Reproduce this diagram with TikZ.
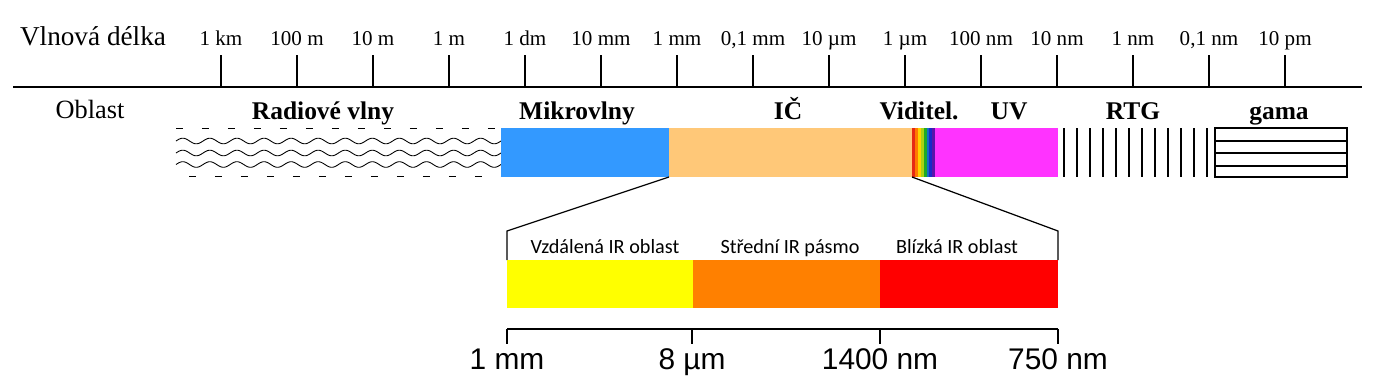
\documentclass[tikz,border=0pt]{standalone}
\usepackage{fontspec}
\setmainfont{Liberation Serif}
\newfontfamily\arialf{Liberation Sans}
\newfontfamily\calibf{Carlito}
\definecolor{mwblue}{HTML}{3399FF}
\definecolor{irlight}{HTML}{FFC878}
\definecolor{uvmag}{HTML}{FF33FF}
\definecolor{iryellow}{HTML}{FFFF00}
\definecolor{irorange}{HTML}{FF8000}
\definecolor{irred}{HTML}{FF0000}
\tikzset{
  axisline/.style={line width=1.2pt},
  tickline/.style={line width=0.75pt},
  ticklab/.style={anchor=base, inner sep=0pt, font=\fontsize{12}{14}\selectfont},
  titlelab/.style={anchor=base, inner sep=0pt, font=\fontsize{15.5}{18}\selectfont},
  regionlab/.style={anchor=base, inner sep=0pt, font=\fontsize{14.5}{17}\selectfont\bfseries},
  irlab/.style={anchor=base, inner sep=0pt, font=\calibf\fontsize{11.5}{14}\selectfont},
  scalelab/.style={anchor=base, inner sep=0pt, font=\arialf\fontsize{17}{20}\selectfont},
  wave/.style={line width=0.5pt},
  dashline/.style={line width=0.5pt, dash pattern=on 0.14cm off 0.38cm},
  rtgline/.style={line width=0.9pt},
  gamabox/.style={line width=1.4pt},
  gamaline/.style={line width=1.1pt},
  zoomline/.style={line width=0.7pt},
}
\begin{document}
\begin{tikzpicture}[x=0.02cm,y=-0.02cm]
\useasboundingbox (0,0) rectangle (1386,390);
% wavelength axis
\coordinate (axL) at (13,87);
\coordinate (axR) at (1362,87);
\draw[axisline] (axL) -- (axR);
\node[titlelab] (vlnova) at (93,45) {Vlnová délka};
\foreach \x/\lab [count=\i] in {221/1 km, 297/100 m, 373/10 m, 449/1 m, 525/1 dm, 601/10 mm, 677/1 mm, 753/{0,1 mm}, 829/10 µm, 905/1 µm, 981/100 nm, 1057/10 nm, 1133/1 nm, 1209/{0,1 nm}, 1285/10 pm}{
  \coordinate (tk\i) at (\x,55);
  \coordinate (tb\i) at (\x,87);
  \draw[tickline] (tk\i) -- (tb\i);
  \node[ticklab] (tl\i) at (\x,45) {\lab};
}
% region labels
\node[titlelab, font=\fontsize{15}{18}\selectfont] (oblast) at (90,118) {Oblast};
\node[regionlab] (radio) at (323,119) {Radiové vlny};
\node[regionlab] (mikro) at (577,119) {Mikrovlny};
\node[regionlab] (ic) at (788,119) {IČ};
\node[regionlab] (vid) at (919,119) {Viditel.};
\node[regionlab] (uv) at (1009,119) {UV};
\node[regionlab] (rtg) at (1133,119) {RTG};
\node[regionlab] (gama) at (1279,119) {gama};
% radio waves
\draw[dashline] (176,128.5) -- (501,128.5);
\draw[dashline, dash phase=0.26cm] (176,176.5) -- (501,176.5);
\foreach \yy in {141,153,164.5}{
  \draw[wave] plot[domain=0:325, samples=300, smooth, variable=\t] ({176+\t},{\yy-2.8*sin(\t/27.083*360)});
}
% bands
\fill[mwblue] (501,128) rectangle (669,177);
\fill[irlight] (669,128) rectangle (912,177);
\foreach \c [count=\i from 0] in {{rgb,255:red,230;green,40;blue,20},{rgb,255:red,255;green,120;blue,0},{rgb,255:red,255;green,210;blue,0},{rgb,255:red,170;green,210;blue,20},{rgb,255:red,30;green,170;blue,40},{rgb,255:red,20;green,110;blue,200},{rgb,255:red,30;green,40;blue,200},{rgb,255:red,90;green,20;blue,170}}{
  \fill[color=\c] ({912+\i*2.9},128) rectangle ({912+(\i+1)*2.9+0.3},177);
}
\fill[uvmag] (935,128) rectangle (1058,177);
% RTG lines
\foreach \i in {0,...,11}{
  \draw[rtgline] ({1064+\i*13.0},128) -- ({1064+\i*13.0},177);
}
% gama box
\draw[gamabox] (1215,128) rectangle (1347,177);
\foreach \y in {141,153,166}{
  \draw[gamaline] (1215,\y) -- (1347,\y);
}
% zoom connectors
\coordinate (irBL) at (669,177);
\coordinate (irBR) at (912,177);
\coordinate (zL) at (507,231);
\coordinate (zR) at (1058,231);
\coordinate (zLb) at (507,260);
\coordinate (zRb) at (1058,260);
\draw[zoomline] (irBL) -- (zL) -- (zLb);
\draw[zoomline] (irBR) -- (zR) -- (zRb);
% IR sub-bands
\fill[iryellow] (507,260) rectangle (693,308);
\fill[irorange] (693,260) rectangle (880,308);
\fill[irred] (880,260) rectangle (1058,308);
\node[irlab] (far) at (605,253) {Vzdálená IR oblast};
\node[irlab] (mid) at (790,253) {Střední IR pásmo};
\node[irlab] (near) at (957,253) {Blízká IR oblast};
% bottom scale
\coordinate (sL) at (507,329);
\coordinate (sR) at (1058,329);
\draw[line width=0.9pt] (sL) -- (sR);
\foreach \x/\lab [count=\i] in {507/1 mm, 692/8 µm, 880/1400 nm, 1058/750 nm}{
  \coordinate (st\i) at (\x,329);
  \coordinate (sb\i) at (\x,344);
  \draw[line width=0.9pt] (st\i) -- (sb\i);
  \node[scalelab] (sl\i) at (\x,369) {\lab};
}
\end{tikzpicture}
\end{document}
